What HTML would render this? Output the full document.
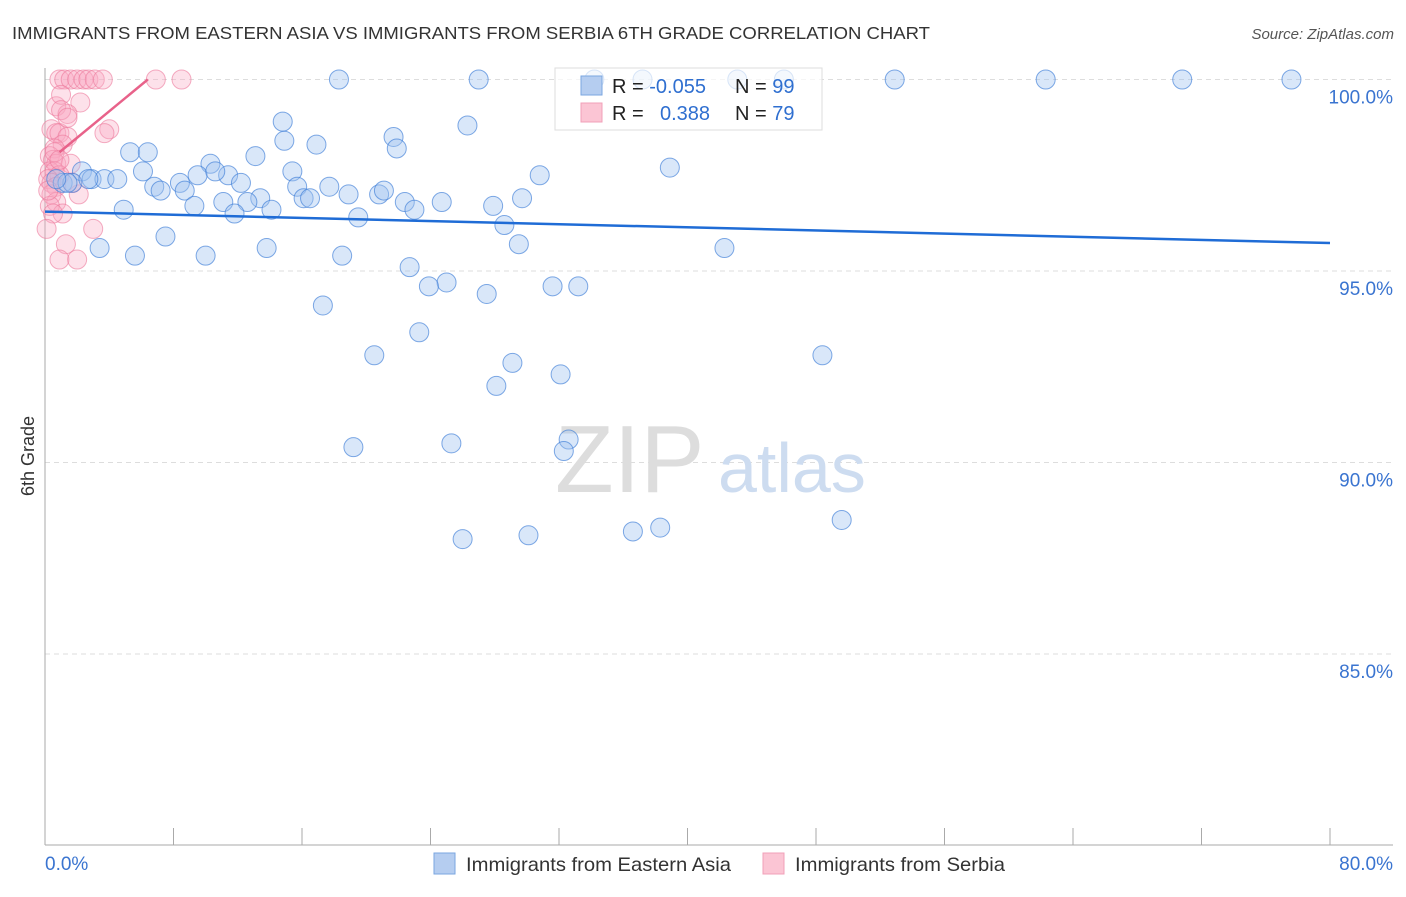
<!DOCTYPE html>
<html><head><meta charset="utf-8"><style>
body{margin:0;background:#fff;font-family:"Liberation Sans",sans-serif;}
svg text{font-family:"Liberation Sans",sans-serif;}
</style></head><body>
<svg id="chart" width="1406" height="892">
<text x="12" y="39" font-size="17.5" fill="#333" textLength="918" lengthAdjust="spacingAndGlyphs">IMMIGRANTS FROM EASTERN ASIA VS IMMIGRANTS FROM SERBIA 6TH GRADE CORRELATION CHART</text>
<text x="1394" y="39" font-size="15" fill="#555" text-anchor="end" font-style="italic">Source: ZipAtlas.com</text>
<text transform="translate(34,456) rotate(-90)" font-size="18" fill="#333" text-anchor="middle">6th Grade</text>
<g id="grid"></g>
<text x="555" y="492" font-size="96" fill="#ddd" font-family="Liberation Serif">ZIP</text>
<text x="718" y="492" font-size="70" fill="#cddcf0">atlas</text>
<g id="pts"></g>
<g id="lines"></g>
<g>
<rect x="555" y="68" width="267" height="62" fill="rgba(255,255,255,0.7)" stroke="#ddd"/>
<rect x="581" y="76" width="21" height="19" fill="#b5cdf0" stroke="#7aa6e0"/>
<rect x="581" y="103" width="21" height="19" fill="#fbc5d4" stroke="#f1a0b8"/>
<text x="612" y="93" font-size="20" fill="#222">R = <tspan fill="#2f6fd0">-0.055</tspan><tspan x="735">N = </tspan><tspan fill="#2f6fd0">99</tspan></text>
<text x="612" y="120" font-size="20" fill="#222">R = <tspan x="660" fill="#2f6fd0">0.388</tspan><tspan x="735">N = </tspan><tspan fill="#2f6fd0">79</tspan></text>
</g>
<g>
<rect x="434" y="853" width="21" height="21" fill="#b5cdf0" stroke="#7aa6e0"/>
<text x="466" y="871" font-size="19.5" fill="#333" textLength="265" lengthAdjust="spacingAndGlyphs">Immigrants from Eastern Asia</text>
<rect x="763" y="853" width="21" height="21" fill="#fbc5d4" stroke="#f1a0b8"/>
<text x="795" y="871" font-size="19.5" fill="#333" textLength="210" lengthAdjust="spacingAndGlyphs">Immigrants from Serbia</text>
</g>
</svg>
<script>
const yTicks=[85,90,95,100];
const xTickLabels=["0.0%","80.0%"];
const blueX=[18.3,27.0,34.2,37.2,43.1,46.0,52.9,62.3,70.8,77.6,14.8,21.7,26.3,14.9,16.9,21.9,5.3,6.4,13.1,38.9,10.3,15.4,6.1,2.3,2.9,3.7,4.5,9.5,11.4,10.6,30.8,1.1,1.7,6.8,7.2,8.4,8.7,12.2,15.7,17.7,13.4,16.1,16.5,18.9,20.8,21.1,11.1,12.6,9.3,22.4,24.7,29.7,14.1,11.8,4.9,23.0,27.9,19.5,28.6,7.5,3.4,13.8,29.5,42.3,5.6,10.0,18.5,22.7,25.0,23.9,27.5,31.6,33.2,17.3,23.3,20.5,29.1,48.4,32.1,28.1,19.2,25.3,32.6,32.3,26.0,30.1,36.6,38.3,49.6,1.4,0.7,2.7];
const blueY=[100,100,100,100,100,100,100,100,100,100,98.9,98.5,98.8,98.4,98.3,98.2,98.1,98.1,98.0,97.7,97.8,97.6,97.6,97.6,97.4,97.4,97.4,97.5,97.5,97.6,97.5,97.3,97.3,97.2,97.1,97.3,97.1,97.3,97.2,97.2,96.9,96.9,96.9,97.0,97.0,97.1,96.8,96.8,96.7,96.8,96.8,96.9,96.6,96.5,96.6,96.6,96.7,96.4,96.2,95.9,95.6,95.6,95.7,95.6,95.4,95.4,95.4,95.1,94.7,94.6,94.4,94.6,94.6,94.1,93.4,92.8,92.6,92.8,92.3,92.0,90.4,90.5,90.6,90.3,88.0,88.1,88.2,88.3,88.5,97.3,97.4,97.4];
const pinkX=[0.9,1.2,1.6,2.0,2.4,2.7,3.1,3.6,6.9,8.5,0.7,2.2,1.0,1.4,0.4,0.7,0.9,1.4,4.0,3.7,1.1,0.6,0.3,0.5,0.7,1.6,0.3,0.6,0.9,0.2,0.4,0.7,2.1,0.4,0.7,0.3,1.1,0.5,0.1,3.0,1.3,0.9,2.0,1.0,1.4,1.7,0.2,0.6,0.9];
const pinkY=[100,100,100,100,100,100,100,100,100,100,99.3,99.4,99.6,99.1,98.7,98.6,98.6,98.5,98.7,98.6,98.3,98.2,98.0,97.9,97.8,97.8,97.6,97.6,97.5,97.4,97.3,97.2,97.0,97.0,96.8,96.7,96.5,96.5,96.1,96.1,95.7,95.3,95.3,99.2,99.0,97.3,97.1,98.1,97.9];
const blueTrend=[[0,96.55],[80,95.73]];
const pinkTrend=[[0.9,98.1],[6.4,100]];
const sx=v=>45+v*1285/80, sy=v=>79.5+(100-v)*38.3;
const NS="http://www.w3.org/2000/svg";
function mk(t,a,p){const e=document.createElementNS(NS,t);for(const k in a)e.setAttribute(k,a[k]);p.appendChild(e);return e;}
const grid=document.getElementById('grid');
yTicks.forEach(t=>{
 const l=mk('line',{x1:45,x2:1393,y1:sy(t),y2:sy(t),stroke:'#ddd','stroke-dasharray':'5,4'},grid);
 
 
 const tx=mk('text',{x:1393,y:sy(t)+24,'font-size':19,fill:'#3a74d0','text-anchor':'end'},grid);
 tx.textContent=t.toFixed(1)+'%';
 
 
});
const ax=mk('line',{x1:45,x2:45,y1:68,y2:845,stroke:'#aaa'},grid);


const bx=mk('line',{x1:45,x2:1393,y1:845,y2:845,stroke:'#aaa'},grid);


for(let i=0;i<=10;i++){const t=mk('line',{x1:sx(i*8),x2:sx(i*8),y1:828,y2:845,stroke:'#aaa'},grid);
 
 }
[[0,'start'],[80,'end']].forEach((d,i)=>{const t=mk('text',{x:sx(d[0])+(i?63:0),y:870,'font-size':19,fill:'#3a74d0','text-anchor':d[1]},grid);
 t.textContent=xTickLabels[i];
 
 });
const pts=document.getElementById('pts');
pinkX.forEach((x,i)=>{const c=mk('circle',{cx:sx(x),cy:sy(pinkY[i]),r:9.5,fill:'rgba(248,170,195,0.35)',stroke:'rgba(236,120,155,0.6)'},pts);
 
 });
blueX.forEach((x,i)=>{const c=mk('circle',{cx:sx(x),cy:sy(blueY[i]),r:9.5,fill:'rgba(160,195,240,0.4)',stroke:'rgba(60,125,215,0.65)'},pts);
 
 });
const lines=document.getElementById('lines');
const bl=mk('line',{x1:sx(blueTrend[0][0]),y1:sy(blueTrend[0][1]),x2:sx(blueTrend[1][0]),y2:sy(blueTrend[1][1]),stroke:'#1f6cd6','stroke-width':2.5},lines);


const pl=mk('line',{x1:sx(pinkTrend[0][0]),y1:sy(pinkTrend[0][1]),x2:sx(pinkTrend[1][0]),y2:sy(pinkTrend[1][1]),stroke:'#e8628a','stroke-width':2.5},lines);


</script>
</body></html>
